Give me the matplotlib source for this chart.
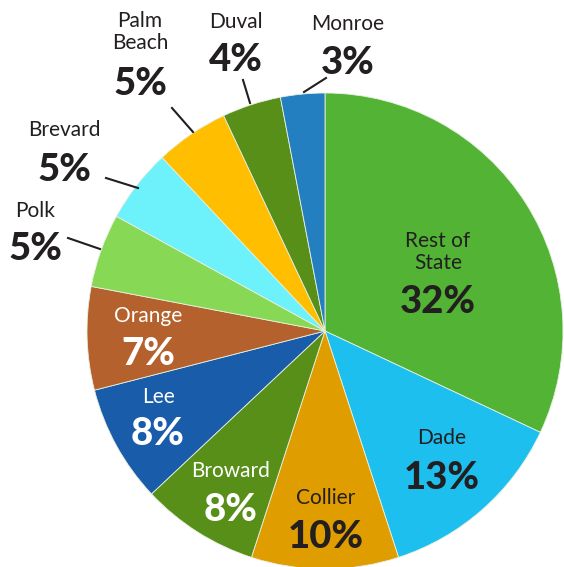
import matplotlib.pyplot as plt

# share of total by county
counties = ['Rest of\nState', 'Dade', 'Collier', 'Broward', 'Lee', 'Orange',
            'Polk', 'Brevard', 'Palm\nBeach', 'Duval', 'Monroe']
shares = [32, 13, 10, 8, 8, 7, 5, 5, 5, 4, 3]
colors = ['#52b335', '#1dbfee', '#e09d00', '#588f19', '#195ca9', '#b4612e',
          '#87d854', '#6df1fb', '#ffbf00', '#588f19', '#247fc1']
text_colors = ['#231f20', '#231f20', '#231f20', 'white', 'white', 'white',
               '#231f20', '#231f20', '#231f20', '#231f20', '#231f20']

# label layout in pixels (x, y of name, y of percent), y from top
label_pos = [(438, 252, 302), (442, 438, 478), (326, 498, 537), (231, 471, 510),
             (158, 397, 434), (148, 316, 354), (35, 211, 249), (64, 130, 170),
             (140, 32, 84), (236, 22, 60), (348, 24, 63)]
# leader lines for the outside labels
leaders = {6: ((68, 238), (100, 249)), 7: ((106, 178), (138, 188)),
           8: ((172, 108), (193, 132)), 9: ((243, 80), (250, 103)),
           10: ((304, 92), (326, 78))}

W, H = 564, 567
fig = plt.figure(figsize=(W / 100, H / 100), dpi=100)
ax = fig.add_axes([0, 0, 1, 1])

ax.pie(shares, colors=colors, startangle=90, counterclock=False,
       center=(325, H - 331), radius=238,
       wedgeprops=dict(edgecolor='#e8f0e0', linewidth=0.6))
ax.set_xlim(0, W)
ax.set_ylim(0, H)
ax.set_aspect('equal')
ax.axis('off')

font = 'Lato'
for i, name in enumerate(counties):
    x, yn, yp = label_pos[i]
    ax.text(x, H - yn, name, ha='center', va='center', fontsize=15,
            color=text_colors[i], family=font, linespacing=1.15)
    ax.text(x, H - yp, f'{shares[i]}%', ha='center', va='center', fontsize=27.5,
            color=text_colors[i], family=font, fontweight='black')

for (x0, y0), (x1, y1) in leaders.values():
    ax.plot([x0, x1], [H - y0, H - y1], color='#231f20', lw=1.5)

fig.savefig('out.png', dpi=100)
